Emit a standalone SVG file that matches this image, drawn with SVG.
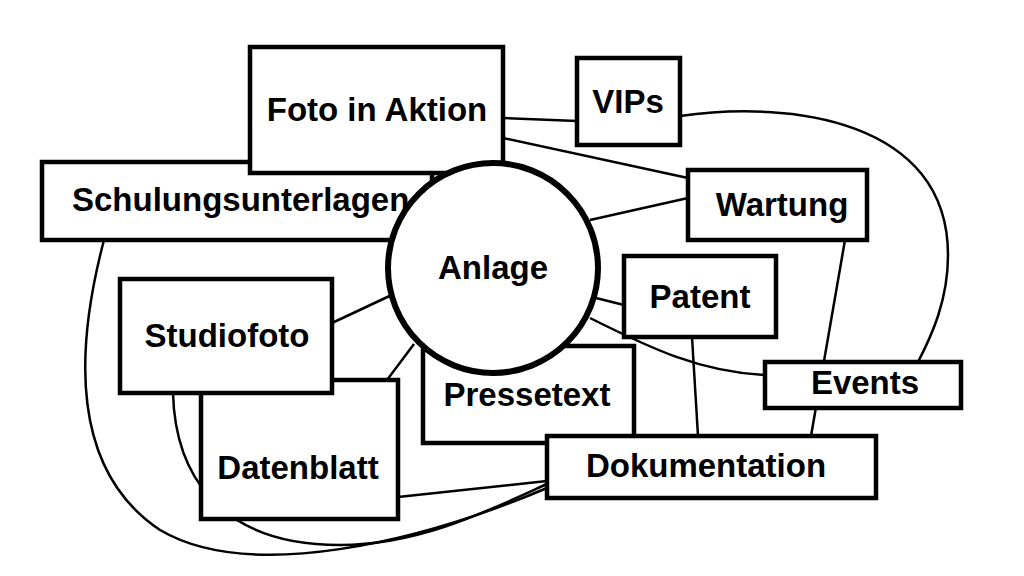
<svg xmlns="http://www.w3.org/2000/svg" width="1024" height="576" viewBox="0 0 1024 576">
<style>
.box{fill:#fff;stroke:#000;stroke-width:4.5}
.circ{fill:#fff;stroke:#000;stroke-width:6}
.lbl{font-family:"Liberation Sans",Arial,sans-serif;font-weight:bold;font-size:33px;fill:#000;text-anchor:middle}
.edge{fill:none;stroke:#000;stroke-width:2.5}
</style>
<rect width="1024" height="576" fill="#fff"/>
<g id="connectors">
<line class="edge" x1="503" y1="118" x2="577" y2="121"/>
<line class="edge" x1="503" y1="138" x2="688" y2="178"/>
<line class="edge" x1="590" y1="220" x2="688" y2="198"/>
<path class="edge" d="M680,116 C790,100 948,120 948,255 C948,300 932,335 918,362"/>
<line class="edge" x1="845" y1="240" x2="811" y2="436"/>
<line class="edge" x1="596" y1="298" x2="624" y2="305"/>
<path class="edge" d="M590,318 C650,348 700,372 765,375"/>
<line class="edge" x1="692" y1="337" x2="698" y2="436"/>
<line class="edge" x1="398" y1="292" x2="332" y2="323"/>
<line class="edge" x1="414" y1="344" x2="387" y2="380"/>
<line class="edge" x1="398" y1="497" x2="547" y2="481"/>
<path class="edge" d="M173,393 C175,470 215,545 340,545 C420,545 490,510 547,484"/>
<path class="edge" d="M104,240 C75,350 70,470 160,530 C250,583 420,542 547,488"/>
</g>
<g id="node-schulungsunterlagen"><rect class="box" x="42" y="162" width="390" height="78"/><text class="lbl" x="72" y="211" style="text-anchor:start">Schulungsunterlagen</text></g>
<g id="node-foto-in-aktion"><rect class="box" x="250" y="47" width="253" height="126"/><text class="lbl" x="377" y="121">Foto in Aktion</text></g>
<g id="node-pressetext"><rect class="box" x="423" y="346" width="211" height="97"/><text class="lbl" x="527" y="406">Pressetext</text></g>
<g id="node-anlage"><circle class="circ" cx="493" cy="268" r="105"/><text class="lbl" x="493" y="279">Anlage</text></g>
<g id="node-vips"><rect class="box" x="577" y="58" width="103" height="87"/><text class="lbl" x="628" y="113">VIPs</text></g>
<g id="node-wartung"><rect class="box" x="688" y="170" width="179" height="70"/><text class="lbl" x="782" y="216">Wartung</text></g>
<g id="node-patent"><rect class="box" x="624" y="256" width="152" height="81"/><text class="lbl" x="700" y="308">Patent</text></g>
<g id="node-events"><rect class="box" x="765" y="362" width="196" height="46"/><text class="lbl" x="865" y="394">Events</text></g>
<g id="node-datenblatt"><rect class="box" x="201" y="380" width="197" height="139"/><text class="lbl" x="298" y="479">Datenblatt</text></g>
<g id="node-studiofoto"><rect class="box" x="120" y="279" width="212" height="114"/><text class="lbl" x="227" y="347">Studiofoto</text></g>
<g id="node-dokumentation"><rect class="box" x="547" y="436" width="329" height="62"/><text class="lbl" x="706" y="477">Dokumentation</text></g>
</svg>
